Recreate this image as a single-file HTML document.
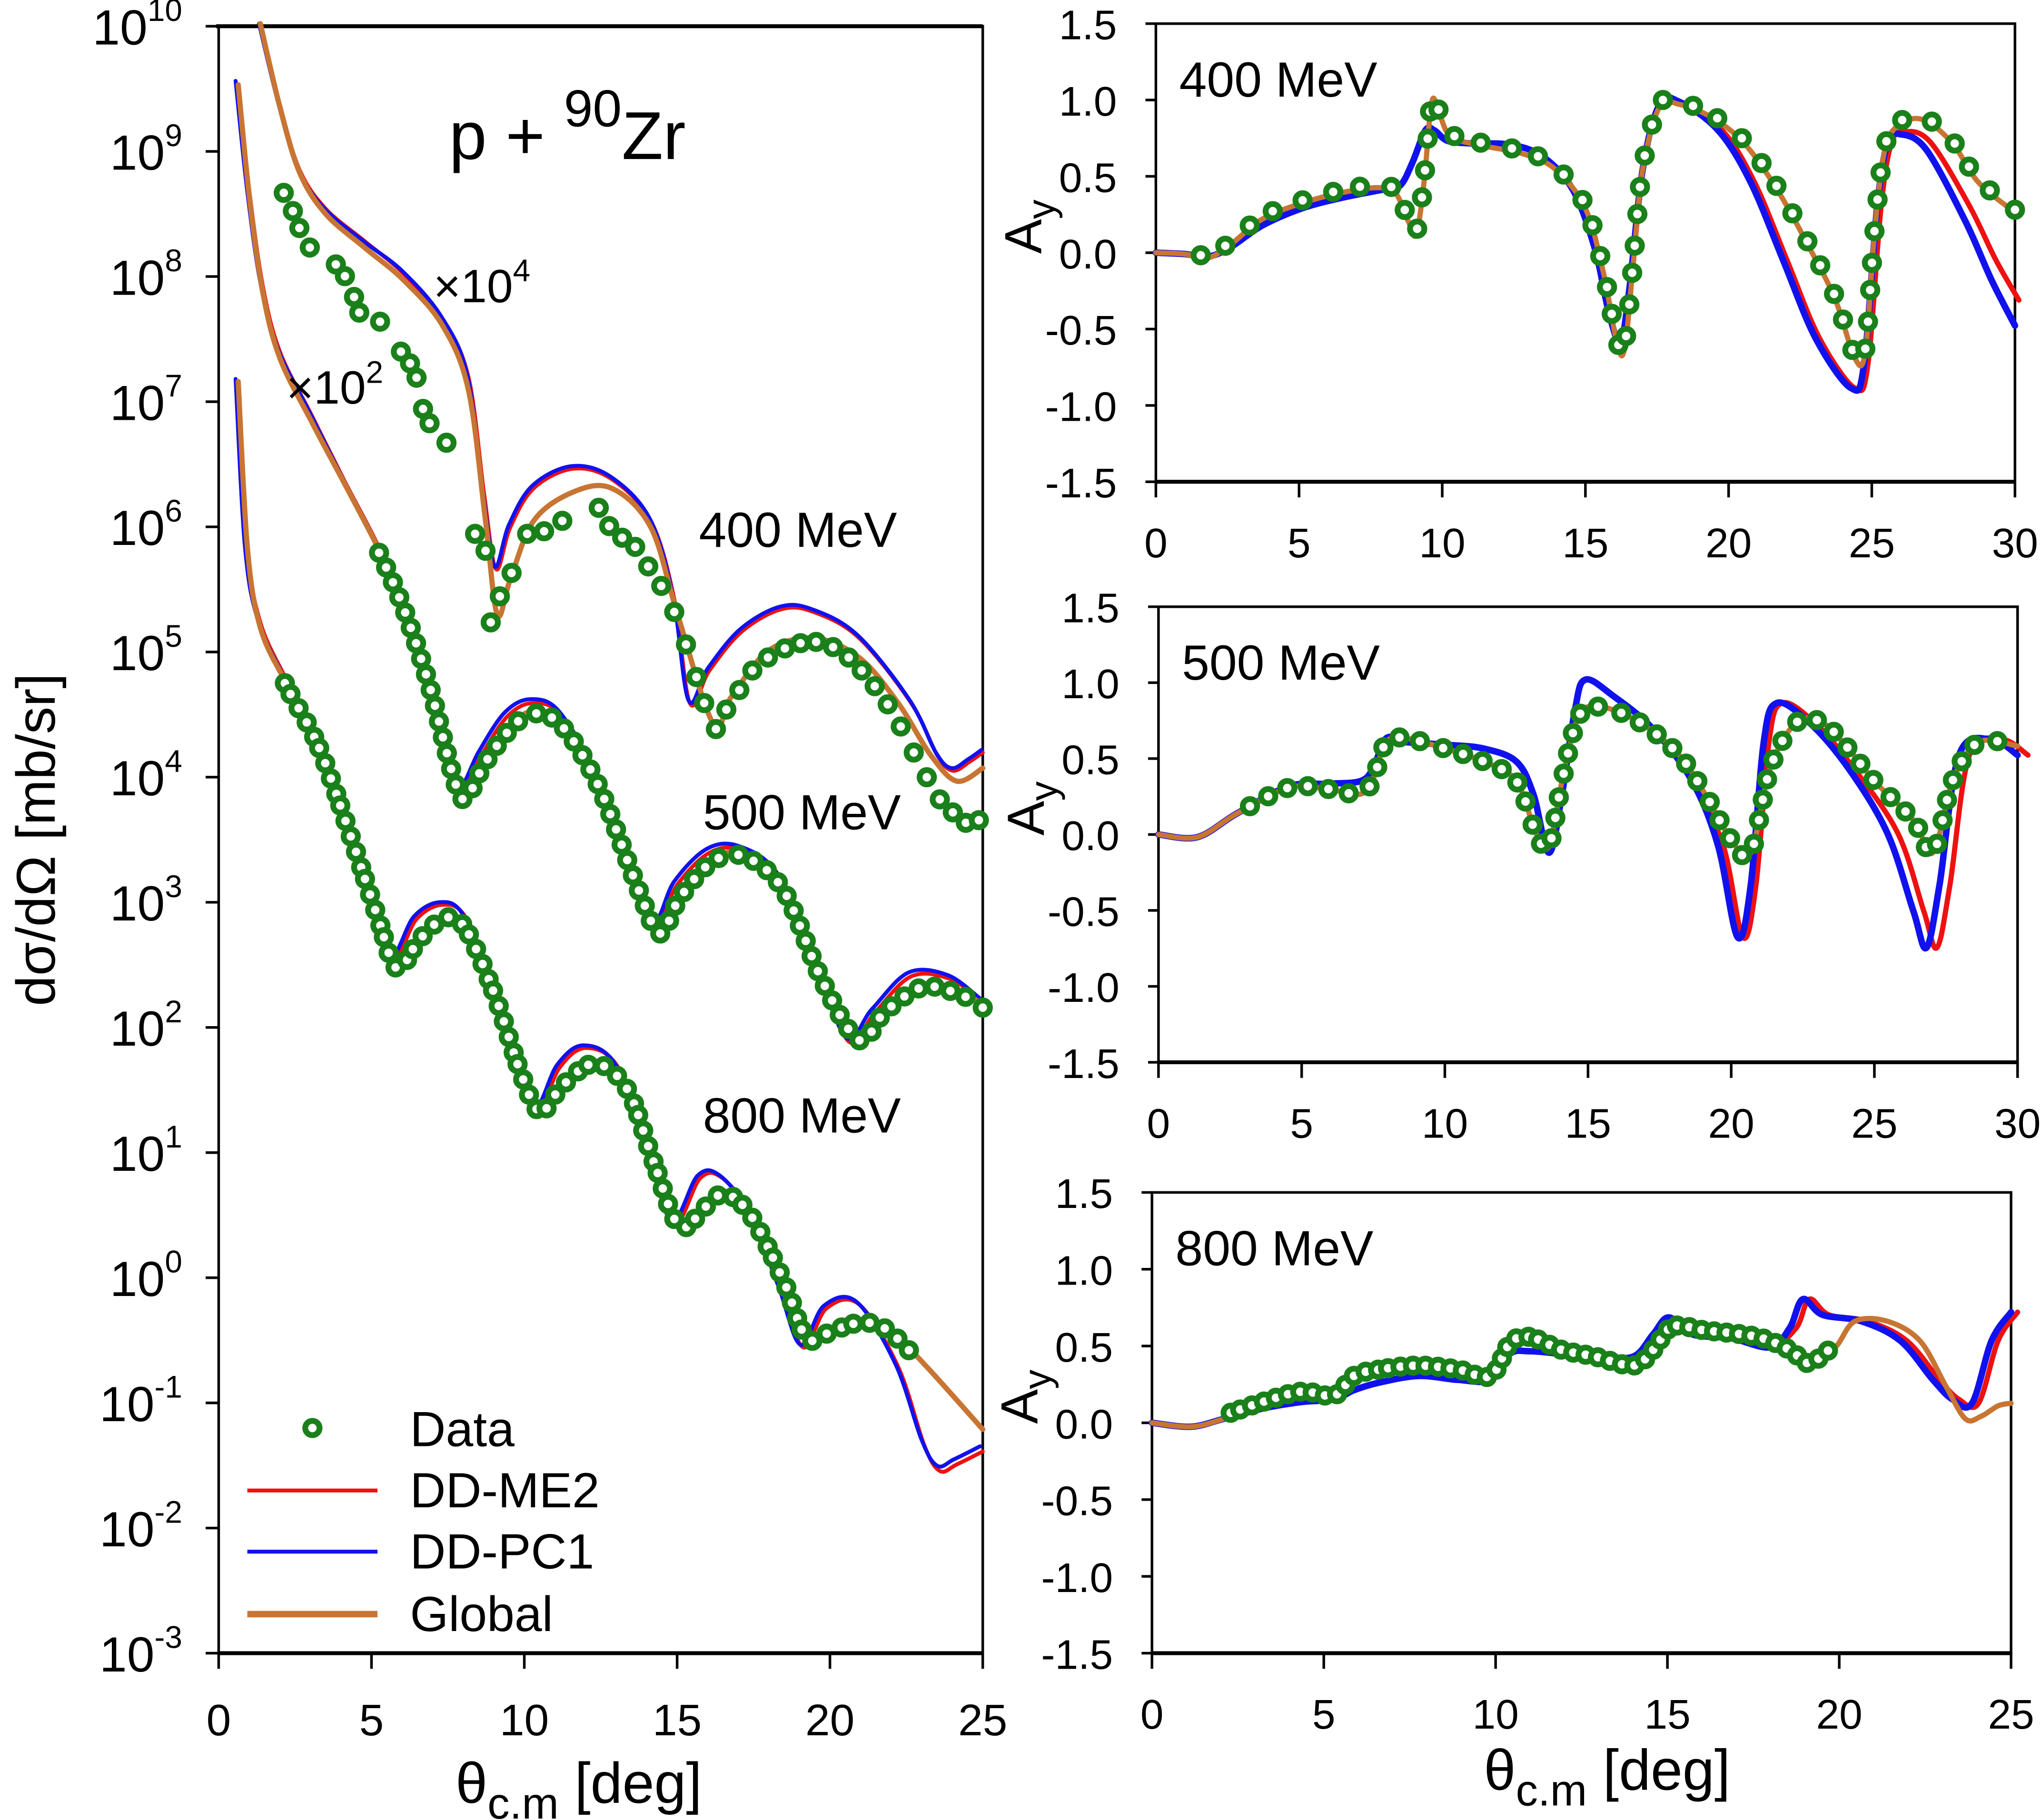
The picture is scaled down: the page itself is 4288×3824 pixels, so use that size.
<!DOCTYPE html>
<html><head><meta charset="utf-8"><style>
html,body{margin:0;padding:0;background:#fff}
svg{display:block}
text{font-family:"Liberation Sans",Arial,sans-serif;fill:#000}
</style></head><body>
<svg id="s" width="4288" height="3824" viewBox="0 0 1568 1398" xmlns="http://www.w3.org/2000/svg">
<g id="axes" stroke="#000" stroke-width="2" fill="none"></g>
<g id="curves" fill="none" stroke-linecap="round" stroke-linejoin="round"></g>
<g id="data" fill="#fff" stroke="#1a801a" stroke-width="4.5"></g>
<g id="txt"></g>
</svg>
<script>
const NS="http://www.w3.org/2000/svg";
function el(p,t,a,txt){const e=document.createElementNS(NS,t);for(const k in a)e.setAttribute(k,a[k]);if(txt!==undefined)e.textContent=txt;document.getElementById(p).appendChild(e);return e;}
function smooth(pts){let d="M"+pts[0][0]+","+pts[0][1];for(let i=0;i<pts.length-1;i++){const p0=pts[i-1]||pts[i],p1=pts[i],p2=pts[i+1],p3=pts[i+2]||p2;const c1=[p1[0]+(p2[0]-p0[0])/6,p1[1]+(p2[1]-p0[1])/6],c2=[p2[0]-(p3[0]-p1[0])/6,p2[1]-(p3[1]-p1[1])/6];d+=`C${c1[0].toFixed(1)},${c1[1].toFixed(1)} ${c2[0].toFixed(1)},${c2[1].toFixed(1)} ${p2[0]},${p2[1]}`;}return d;}
const RED="#ee1111",BLUE="#1111ee",BR="#c87533";
const R=5.5;
function curve(pts,col,w){return el("curves","path",{d:smooth(pts),stroke:col,"stroke-width":w});}
function dataAlong(path,x0,x1,n,dy){const L=path.getTotalLength();let pts=[];for(let i=0;i<=400;i++){const p=path.getPointAtLength(L*i/400);if(p.x>=x0&&p.x<=x1)pts.push(p);}
 const m=pts.length;for(let i=0;i<n;i++){const p=pts[Math.floor(i*(m-1)/(n-1))];el("data","circle",{cx:p.x,cy:p.y+(dy||0),r:R});}}
function line(x1,y1,x2,y2,w){el("axes","line",{x1,y1,x2,y2,"stroke-width":w||2});}
function T(x,y,s,size,anchor,extra){const e=el("txt","text",Object.assign({x,y,"font-size":size,"text-anchor":anchor||"start"},extra||{}));e.innerHTML=s;return e;}

// LEFT PANEL
const LX0=168,LX1=755,LY0=20,LY1=1270,dec=(LY1-LY0)/13;
el("axes","rect",{x:LX0,y:LY0,width:LX1-LX0,height:LY1-LY0});
line(LX0,LY1,LX1,LY1,3);line(LX0-2,LY0,LX1,LY0,3);
for(let i=0;i<=13;i++){const y=LY0+i*dec,ex=10-i;line(LX0-10,y,LX0,y);
 T(140,y+14,"10<tspan font-size='24' dy='-18'>"+ex+"</tspan>",38,"end");}
for(let i=0;i<=5;i++){const x=LX0+i*(LX1-LX0)/5;line(x,LY1,x,LY1+12);T(x,1333,String(i*5),34,"middle");}
T(350,1385,"θ<tspan font-size='34' dy='12'>c.m</tspan><tspan dy='-12'> [deg]</tspan>",44,"start");
T(42,645,"dσ/dΩ [mb/sr]",42,"middle",{transform:"rotate(-90 42 645)"});
T(345,122,"p + <tspan font-size='40' dy='-25'>90</tspan><tspan dy='25'>Zr</tspan>",52);
T(333,232,"×10<tspan font-size='24' dy='-16'>4</tspan>",36);
T(220,310,"×10<tspan font-size='24' dy='-16'>2</tspan>",36);
T(537,420,"400 MeV",38);T(540,637,"500 MeV",38);T(540,870,"800 MeV",38);

// 400 MeV
const b400=[[200,18],[215,80],[230,130],[250,160],[280,185],[310,210],[340,245],[360,290],[372,380],[381,437],[392,405],[410,375],[440,360],[470,368],[500,400],[518,460],[530,540],[545,515],[570,485],[600,468],[625,470],[660,490],[700,540],[720,580],[732,592],[745,585],[755,578]];
curve(b400,RED,3);curve(b400.map(p=>[p[0]-1,p[1]+(p[0]>300?-2:0)]),BLUE,3);
curve([[200,18],[215,82],[230,132],[250,164],[280,190],[310,215],[340,250],[360,300],[373,400],[382,472],[392,445],[410,400],[440,378],[470,375],[500,405],[520,470],[548,556],[562,535],[590,500],[625,490],[660,505],[690,540],[715,580],[735,600],[755,590]],BR,4);
[[218,148],[225,162],[230,175],[238,190],[258,203],[265,212],[272,228],[276,240],[292,247],[308,270],[315,279],[320,290],[325,314],[330,325],[343,340],[365,410],[373,423],[377,478],[384,458],[393,440],[405,410],[418,408],[432,400],[460,390],[468,404],[478,413],[488,420],[498,435],[508,450],[518,470],[527,495],[535,520],[541,540],[550,560],[558,545],[568,530],[578,515],[590,505],[603,498],[615,494],[627,493],[640,497],[652,505],[662,515],[672,527],[682,541],[692,558],[702,578],[712,597],[722,614],[732,624],[742,632],[752,630]].forEach(p=>el("data","circle",{cx:p[0],cy:p[1],r:R}));

// 500 MeV
const r500=[[183,65],[192,150],[202,220],[215,270],[240,320],[265,370],[290,418],[310,465],[330,530],[345,585],[355,608],[370,580],[390,550],[410,540],[432,550],[460,600],[488,680],[505,710],[520,680],[545,655],[570,653],[600,675],[628,740],[652,800],[672,778],[700,750],[730,752],[755,770]];
curve(r500,RED,3);curve(r500.map(p=>[p[0]-2,p[1]-3]),BLUE,3);
const g500=curve([[183,65],[192,155],[202,225],[215,275],[240,325],[265,372],[290,420],[310,465],[330,525],[347,590],[357,612],[372,585],[392,558],[410,546],[432,556],[460,602],[490,680],[507,715],[522,688],[547,660],[572,656],[602,682],[632,752],[660,797],[680,775],[710,756],[740,763],[755,772]],BR,4);
dataAlong(g500,290,755,70,2);

// 800 MeV
const r800=[[183,293],[190,420],[200,478],[220,522],[245,570],[270,640],[290,700],[303,736],[320,706],[340,695],[358,705],[380,760],[400,825],[414,852],[430,820],[450,805],[475,820],[500,885],[518,940],[538,905],[555,905],[578,935],[600,990],[617,1035],[635,1005],[660,1002],[690,1050],[710,1110],[722,1130],[735,1125],[755,1115]];
curve(r800,RED,3);curve(r800.map(p=>[p[0]-2,p[1]+(p[0]>700?-4:-2)]),BLUE,3);
const g800=curve([[183,293],[190,420],[200,482],[220,525],[245,572],[270,642],[290,702],[305,742],[322,720],[342,703],[358,712],[380,762],[400,822],[415,852],[432,832],[457,815],[482,835],[502,890],[522,940],[542,925],[557,915],[577,932],[602,982],[620,1026],[640,1020],[662,1014],[682,1020],[712,1050],[755,1098]],BR,4);
dataAlong(g800,218,700,80,2);

// legend
el("data","circle",{cx:240,cy:1097,r:R});
T(315,1111,"Data",38);
el("axes","line",{x1:190,y1:1145,x2:290,y2:1145,stroke:RED,"stroke-width":3});T(315,1158,"DD-ME2",38);
el("axes","line",{x1:190,y1:1192,x2:290,y2:1192,stroke:BLUE,"stroke-width":3});T(315,1205,"DD-PC1",38);
el("axes","line",{x1:190,y1:1240,x2:290,y2:1240,stroke:BR,"stroke-width":5});T(315,1253,"Global",38);

// RIGHT PANELS
function panel(x0,x1,y0,y1,xmax,label){
 el("axes","rect",{x:x0,y:y0,width:x1-x0,height:y1-y0});line(x0,y1,x1,y1,3);
 for(let i=0;i<=6;i++){const v=1.5-i*0.5,y=y0+i*(y1-y0)/6;line(x0-8,y,x0,y);T(x0-30,y+12,v.toFixed(1),32,"end");}
 const n=xmax/5;for(let i=0;i<=n;i++){const x=x0+i*(x1-x0)/n;line(x,y1,x,y1+12);T(x,y1+58,String(i*5),32,"middle");}
 T(x0+18,y0+56,label,38);
 const yc=(y0+y1)/2-20, lx=x0-88;T(lx,yc,"A<tspan font-size='30' dy='10'>y</tspan>",40,"middle",{transform:`rotate(-90 ${lx} ${yc})`});
}
panel(888,1548,18,370,30,"400 MeV");
panel(890,1550,466,816,30,"500 MeV");
panel(885,1545,916,1270,25,"800 MeV");
T(1140,1375,"θ<tspan font-size='34' dy='12'>c.m</tspan><tspan dy='-12'> [deg]</tspan>",44);

// top 400
const tb=[[888,194],[910,195],[928,197],[945,190],[970,173],[1000,160],[1030,152],[1060,146],[1075,143],[1085,125],[1095,100],[1102,100],[1112,108],[1130,110],[1160,111],[1185,120],[1208,145],[1225,190],[1236,240],[1245,262],[1252,220],[1262,130],[1275,80],[1290,78],[1320,100],[1345,140],[1370,200],[1395,260],[1422,298],[1432,280],[1442,160],[1450,110],[1460,103],[1480,115],[1510,170],[1530,215],[1548,250]];
curve(tb.map(p=>[p[0]+(p[0]>1300?3:0),p[1]-(p[0]>1450?(p[0]-1450)*0.2:0)]),RED,4);curve(tb,BLUE,5);
const tg=curve([[888,194],[910,195],[928,198],[945,188],[970,168],[1000,156],[1030,148],[1058,144],[1072,148],[1082,170],[1088,180],[1094,140],[1100,78],[1106,88],[1115,105],[1140,112],[1170,118],[1195,130],[1218,160],[1232,210],[1242,262],[1248,268],[1255,200],[1262,130],[1275,82],[1290,80],[1315,90],[1340,110],[1365,145],[1390,190],[1410,230],[1425,275],[1433,270],[1440,180],[1448,115],[1460,95],[1478,92],[1500,110],[1520,140],[1548,163]],BR,4);
dataAlong(tg,920,1548,60,-2);
// middle 500
const mb=[[890,641],[920,643],[950,625],[990,604],[1020,602],[1045,600],[1055,590],[1065,567],[1080,570],[1110,572],[1140,575],[1165,585],[1178,610],[1190,655],[1200,610],[1210,545],[1218,522],[1240,535],[1270,560],[1300,600],[1320,650],[1335,720],[1345,680],[1355,570],[1365,540],[1390,555],[1420,590],[1450,640],[1470,700],[1480,728],[1490,680],[1505,580],[1530,568],[1550,580]];
curve(mb.map(p=>[p[0]+(p[0]>1300?4:0)+(p[0]>1430?4:0),p[1]]),RED,4);curve(mb,BLUE,5);
const mg=curve([[890,641],[920,643],[950,625],[990,605],[1020,606],[1045,610],[1055,598],[1065,570],[1080,567],[1110,575],[1140,585],[1165,600],[1180,640],[1190,650],[1200,600],[1213,550],[1230,543],[1260,555],[1290,580],[1310,610],[1330,645],[1345,655],[1360,590],[1380,555],[1400,555],[1420,575],[1440,600],[1470,630],[1485,655],[1500,600],[1520,570],[1550,573]],BR,4);
dataAlong(mg,960,1535,60,0);
// bottom 800
const bb=[[885,1093],[915,1096],[940,1090],[970,1082],[1000,1077],[1025,1075],[1040,1068],[1060,1062],[1090,1057],[1120,1060],[1145,1060],[1160,1040],[1175,1038],[1200,1040],[1230,1042],[1255,1042],[1270,1025],[1282,1012],[1300,1025],[1330,1028],[1360,1035],[1375,1020],[1385,998],[1400,1010],[1430,1015],[1460,1030],[1485,1060],[1500,1075],[1515,1078],[1530,1030],[1545,1008]];
curve(bb.map(p=>[p[0]+(p[0]>1370?5:0),p[1]]),RED,4);curve(bb,BLUE,5);
const bg=curve([[885,1093],[915,1096],[940,1090],[970,1080],[1000,1072],[1025,1075],[1040,1060],[1060,1055],[1090,1052],[1120,1055],[1145,1060],[1160,1035],[1175,1030],[1200,1040],[1225,1045],[1255,1052],[1270,1040],[1285,1022],[1310,1025],[1350,1030],[1375,1040],[1390,1050],[1410,1035],[1425,1015],[1450,1015],[1475,1030],[1495,1065],[1510,1090],[1522,1088],[1535,1080],[1545,1078]],BR,4);
dataAlong(bg,945,1405,55,-3);
</script>
</body></html>
